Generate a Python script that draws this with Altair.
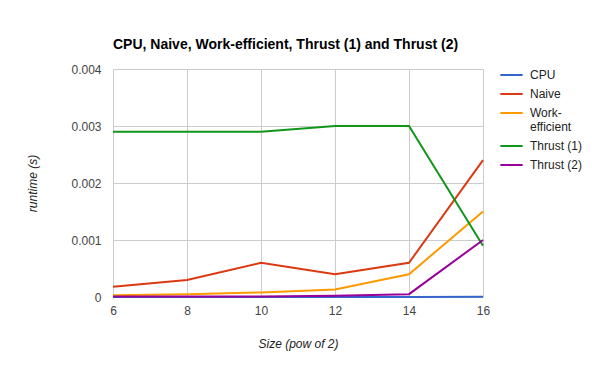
import altair as alt
import pandas as pd

sizes = [6, 8, 10, 12, 14, 16]
series_names = ["CPU", "Naive", "Work-efficient", "Thrust (1)", "Thrust (2)"]
cpu = [0.000001, 0.000001, 0.000001, 0.000001, 0.000002, 0.000003]
naive = [0.00018, 0.0003, 0.0006, 0.0004, 0.0006, 0.0024]
work_efficient = [0.00003, 0.00005, 0.00008, 0.00013, 0.0004, 0.0015]
thrust1 = [0.0029, 0.0029, 0.0029, 0.003, 0.003, 0.0009]
thrust2 = [0.00001, 0.00001, 0.00001, 0.00002, 0.00005, 0.001]
colors = ["#3366cc", "#dc3912", "#ff9900", "#109618", "#990099"]

rows = []
for name, vals in zip(series_names, [cpu, naive, work_efficient, thrust1, thrust2]):
    for s, v in zip(sizes, vals):
        rows.append({"size": s, "runtime": v, "series": name})
df = pd.DataFrame(rows)

font = "Liberation Sans"

chart = alt.Chart(df).mark_line(strokeWidth=2).encode(
    x=alt.X("size:Q", scale=alt.Scale(domain=[6, 16], nice=False, zero=False),
            axis=alt.Axis(values=[6, 8, 10, 12, 14, 16], title="Size (pow of 2)",
                          titleFontStyle="italic", titleFontWeight="normal",
                          titleFontSize=12, titleColor="#222", titlePadding=22,
                          labelColor="#444", labelFontSize=12, labelPadding=8,
                          ticks=False, domain=False, gridColor="#cccccc", labelFlush=False)),
    y=alt.Y("runtime:Q", scale=alt.Scale(domain=[0, 0.004], nice=False),
            axis=alt.Axis(values=[0, 0.001, 0.002, 0.003, 0.004], title="runtime (s)",
                          labelExpr="datum.value == 0 ? '0' : format(datum.value, '.3f')",
                          titleFontStyle="italic", titleFontWeight="normal",
                          titleFontSize=12, titleColor="#222", titlePadding=31,
                          labelColor="#444", labelFontSize=12, labelPadding=12,
                          ticks=False, domain=False, gridColor="#cccccc")),
    color=alt.Color("series:N",
                    scale=alt.Scale(domain=series_names, range=colors),
                    legend=alt.Legend(title=None, orient="right", offset=12,
                                      symbolType="stroke", symbolSize=500, symbolStrokeWidth=2,
                                      labelFontSize=12, labelColor="#222", labelFont=font,
                                      clipHeight=12, rowPadding=7, labelOffset=6,
                                      labelExpr="datum.label == 'Work-efficient' ? ['Work-', 'efficient'] : datum.label")),
    order=alt.Order("size:Q"),
).properties(
    width=370, height=228,
    title=alt.TitleParams("CPU, Naive, Work-efficient, Thrust (1) and Thrust (2)",
                          anchor="start", frame="group", fontSize=14, fontWeight="bold", font=font,
                          color="#000", offset=11),
    autosize=alt.AutoSizeParams(type="none"),
    padding={"left": 113, "top": 69, "right": 109, "bottom": 72},
).configure(font=font).configure_view(stroke=None)

chart.save("out.html", embed_options={"renderer": "svg", "actions": False})
